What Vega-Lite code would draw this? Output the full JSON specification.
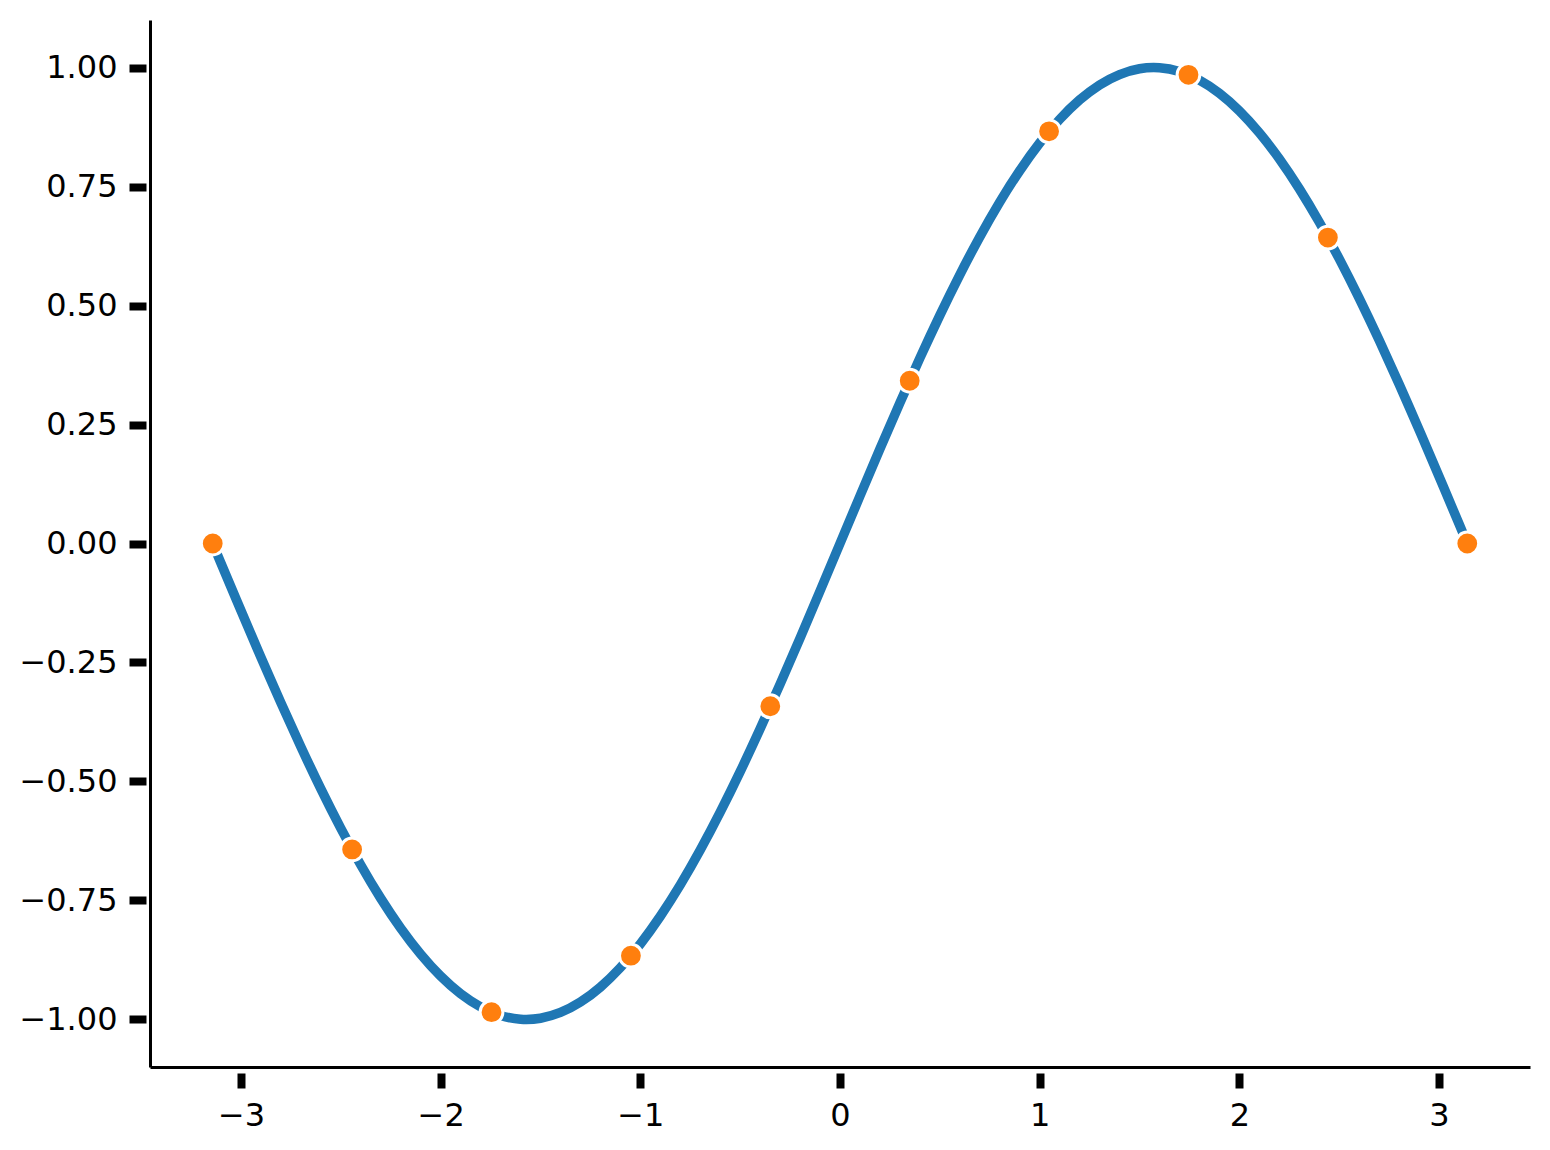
{
  "$schema": "https://vega.github.io/schema/vega-lite/v6.json",
  "autosize": "none",
  "width": 1380,
  "height": 1047,
  "padding": {"left": 150, "top": 20, "right": 20, "bottom": 83},
  "background": "white",
  "config": {
    "view": {"stroke": null},
    "axis": {"grid": false, "labelFont": "DejaVu Sans", "labelFontSize": 32, "labelColor": "black", "domainColor": "black", "tickColor": "black"}
  },
  "datasets": {
    "curve": [
      {"x": -3.1416, "y": 0.0}, {"x": -3.1, "y": -0.0416}, {"x": -3.0, "y": -0.1411}, {"x": -2.9, "y": -0.2392},
      {"x": -2.8, "y": -0.335}, {"x": -2.7, "y": -0.4274}, {"x": -2.6, "y": -0.5155}, {"x": -2.5, "y": -0.5985},
      {"x": -2.4, "y": -0.6755}, {"x": -2.3, "y": -0.7457}, {"x": -2.2, "y": -0.8085}, {"x": -2.1, "y": -0.8632},
      {"x": -2.0, "y": -0.9093}, {"x": -1.9, "y": -0.9463}, {"x": -1.8, "y": -0.9738}, {"x": -1.7, "y": -0.9917},
      {"x": -1.6, "y": -0.9996}, {"x": -1.5, "y": -0.9975}, {"x": -1.4, "y": -0.9854}, {"x": -1.3, "y": -0.9636},
      {"x": -1.2, "y": -0.932}, {"x": -1.1, "y": -0.8912}, {"x": -1.0, "y": -0.8415}, {"x": -0.9, "y": -0.7833},
      {"x": -0.8, "y": -0.7174}, {"x": -0.7, "y": -0.6442}, {"x": -0.6, "y": -0.5646}, {"x": -0.5, "y": -0.4794},
      {"x": -0.4, "y": -0.3894}, {"x": -0.3, "y": -0.2955}, {"x": -0.2, "y": -0.1987}, {"x": -0.1, "y": -0.0998},
      {"x": 0.0, "y": 0.0}, {"x": 0.1, "y": 0.0998}, {"x": 0.2, "y": 0.1987}, {"x": 0.3, "y": 0.2955},
      {"x": 0.4, "y": 0.3894}, {"x": 0.5, "y": 0.4794}, {"x": 0.6, "y": 0.5646}, {"x": 0.7, "y": 0.6442},
      {"x": 0.8, "y": 0.7174}, {"x": 0.9, "y": 0.7833}, {"x": 1.0, "y": 0.8415}, {"x": 1.1, "y": 0.8912},
      {"x": 1.2, "y": 0.932}, {"x": 1.3, "y": 0.9636}, {"x": 1.4, "y": 0.9854}, {"x": 1.5, "y": 0.9975},
      {"x": 1.6, "y": 0.9996}, {"x": 1.7, "y": 0.9917}, {"x": 1.8, "y": 0.9738}, {"x": 1.9, "y": 0.9463},
      {"x": 2.0, "y": 0.9093}, {"x": 2.1, "y": 0.8632}, {"x": 2.2, "y": 0.8085}, {"x": 2.3, "y": 0.7457},
      {"x": 2.4, "y": 0.6755}, {"x": 2.5, "y": 0.5985}, {"x": 2.6, "y": 0.5155}, {"x": 2.7, "y": 0.4274},
      {"x": 2.8, "y": 0.335}, {"x": 2.9, "y": 0.2392}, {"x": 3.0, "y": 0.1411}, {"x": 3.1, "y": 0.0416},
      {"x": 3.1416, "y": 0.0}
    ],
    "pts": [
      {"x": -3.1416, "y": 0.0}, {"x": -2.4435, "y": -0.6428}, {"x": -1.7453, "y": -0.9848}, {"x": -1.0472, "y": -0.866},
      {"x": -0.3491, "y": -0.342}, {"x": 0.3491, "y": 0.342}, {"x": 1.0472, "y": 0.866}, {"x": 1.7453, "y": 0.9848},
      {"x": 2.4435, "y": 0.6428}, {"x": 3.1416, "y": 0.0}
    ]
  },
  "layer": [
    {
      "data": {"name": "curve"},
      "mark": {"type": "line", "color": "#1f77b4", "strokeWidth": 9.5, "interpolate": "natural", "strokeCap": "butt"},
      "encoding": {
        "x": {"field": "x", "type": "quantitative", "scale": {"domain": [-3.4558, 3.4558], "nice": false, "zero": false},
              "axis": {"orient": "bottom", "title": null, "labels": false, "ticks": false, "domain": true, "domainWidth": 3}},
        "y": {"field": "y", "type": "quantitative", "scale": {"domain": [-1.1, 1.1], "nice": false, "zero": false},
              "axis": {"orient": "left", "title": null, "labels": false, "ticks": false, "domain": true, "domainWidth": 3}}
      }
    },
    {
      "data": {"name": "pts"},
      "mark": {"type": "point", "shape": "circle", "filled": true, "color": "#ff7f0e", "opacity": 1, "size": 520, "stroke": "white", "strokeWidth": 3, "strokeOpacity": 1},
      "encoding": {
        "x": {"field": "x", "type": "quantitative",
              "axis": {"orient": "bottom", "title": null, "domain": false, "offset": 6, "tickSize": 15, "tickWidth": 8, "labelPadding": 12,
                       "values": [-3, -2, -1, 0, 1, 2, 3], "format": "d", "labelExpr": "replace(datum.label, '-', '−')"}},
        "y": {"field": "y", "type": "quantitative",
              "axis": {"orient": "left", "title": null, "domain": false, "offset": 4, "tickSize": 17, "tickWidth": 8, "labelPadding": 12,
                       "values": [-1, -0.75, -0.5, -0.25, 0, 0.25, 0.5, 0.75, 1], "format": ".2f", "labelExpr": "replace(datum.label, '-', '−')"}}
      }
    }
  ],
  "resolve": {"axis": {"x": "independent", "y": "independent"}}
}
